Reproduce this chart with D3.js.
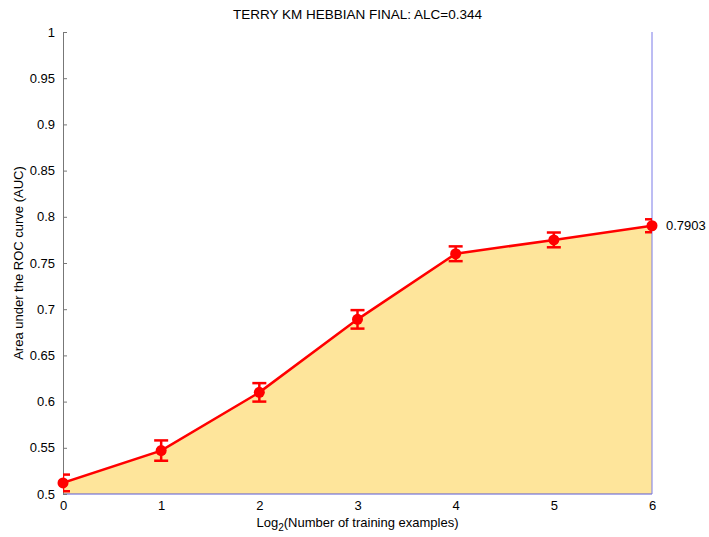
<!DOCTYPE html>
<html>
<head>
<meta charset="utf-8">
<script src="https://cdn.jsdelivr.net/npm/d3@7"></script>
<style>
  html, body { margin: 0; padding: 0; background: #fff; }
  text { font-family: "Liberation Sans", Arial, Helvetica, sans-serif; }
</style>
</head>
<body>
<svg id="chart" width="709" height="537"></svg>
<script>
// Learning curve: AUC against log2 of the number of training examples
const log2Examples = [0, 1, 2, 3, 4, 5, 6];
const aucValues    = [0.512, 0.547, 0.610, 0.689, 0.760, 0.775, 0.7903];
const aucErrors    = [0.009, 0.011, 0.010, 0.010, 0.008, 0.008, 0.007];
const xTicks = [0, 1, 2, 3, 4, 5, 6];
const yTicks = [0.5, 0.55, 0.6, 0.65, 0.7, 0.75, 0.8, 0.85, 0.9, 0.95, 1];
const titleText = "TERRY KM HEBBIAN FINAL: ALC=0.344";
const finalLabel = "0.7903";

const svg = d3.select("#chart");
const plotLeft = 63, plotRight = 652, plotTop = 32, plotBottom = 494;
const fontSize = 13;

const x = d3.scaleLinear().domain([0, 6]).range([plotLeft, plotRight]);
const y = d3.scaleLinear().domain([0.5, 1]).range([plotBottom, plotTop]);

const data = log2Examples.map((v, i) => ({ x: v, y: aucValues[i], e: aucErrors[i] }));

svg.append("defs").append("clipPath").attr("id", "plotClip")
  .append("rect").attr("x", plotLeft).attr("y", plotTop)
  .attr("width", plotRight - plotLeft).attr("height", plotBottom - plotTop);

// Shaded area under the curve
const area = d3.area().x(d => x(d.x)).y0(y(0.5)).y1(d => y(d.y));
svg.append("path").datum(data)
  .attr("d", area)
  .attr("fill", "#fee59b")
  .attr("stroke", "none");

// Blue outline at the bottom and the right end of the area
svg.append("line")
  .attr("x1", x(0)).attr("x2", x(6)).attr("y1", y(0.5)).attr("y2", y(0.5))
  .attr("stroke", "#5b5bd6").attr("stroke-width", 1.2);
svg.append("line")
  .attr("x1", x(6)).attr("x2", x(6)).attr("y1", y(1)).attr("y2", y(0.5))
  .attr("stroke", "#7a7ae8").attr("stroke-width", 1);

// Left axis with inward ticks
const yAxis = d3.axisLeft(y).tickValues(yTicks).tickSizeInner(-4).tickSizeOuter(0)
  .tickPadding(8).tickFormat(d => d === 1 ? "1" : d3.format("")(+d.toFixed(2)));
const gy = svg.append("g").attr("transform", `translate(${plotLeft},0)`).call(yAxis);
gy.select(".domain").attr("stroke", "#777");
gy.selectAll(".tick line").attr("stroke", "#777");
gy.selectAll("text").attr("font-size", fontSize).attr("fill", "#000");

// Bottom tick labels
const xAxis = d3.axisBottom(x).tickValues(xTicks).tickSize(0).tickPadding(7).tickFormat(d3.format("d"));
const gx = svg.append("g").attr("transform", `translate(0,${plotBottom})`).call(xAxis);
gx.select(".domain").remove();
gx.selectAll("text").attr("font-size", fontSize).attr("fill", "#000");

// Curve, error bars and markers
const plot = svg.append("g").attr("clip-path", "url(#plotClip)");
const line = d3.line().x(d => x(d.x)).y(d => y(d.y));
plot.append("path").datum(data)
  .attr("d", line).attr("fill", "none")
  .attr("stroke", "#ff0000").attr("stroke-width", 2.5);

const cap = 7;
const eb = plot.selectAll(".err").data(data).enter().append("g").attr("class", "err")
  .attr("stroke", "#ff0000").attr("stroke-width", 2.5);
eb.append("line")
  .attr("x1", d => x(d.x)).attr("x2", d => x(d.x))
  .attr("y1", d => y(d.y - d.e)).attr("y2", d => y(d.y + d.e));
eb.append("line")
  .attr("x1", d => x(d.x) - cap).attr("x2", d => x(d.x) + cap)
  .attr("y1", d => y(d.y - d.e)).attr("y2", d => y(d.y - d.e));
eb.append("line")
  .attr("x1", d => x(d.x) - cap).attr("x2", d => x(d.x) + cap)
  .attr("y1", d => y(d.y + d.e)).attr("y2", d => y(d.y + d.e));

svg.selectAll(".pt").data(data).enter().append("circle").attr("class", "pt")
  .attr("cx", d => x(d.x)).attr("cy", d => y(d.y)).attr("r", 5.5)
  .attr("fill", "#ff0000");

// Final value label
svg.append("text")
  .attr("x", x(6) + 14).attr("y", y(aucValues[6]) + 4.5)
  .attr("font-size", fontSize).text(finalLabel);

// Title
svg.append("text")
  .attr("x", (plotLeft + plotRight) / 2).attr("y", 19)
  .attr("text-anchor", "middle").attr("font-size", 13.5).text(titleText);

// Axis titles
const xl = svg.append("text")
  .attr("x", (plotLeft + plotRight) / 2).attr("y", 527)
  .attr("text-anchor", "middle").attr("font-size", fontSize);
xl.append("tspan").text("Log");
xl.append("tspan").attr("font-size", 10).attr("dy", 4).text("2");
xl.append("tspan").attr("dy", -4).text("(Number of training examples)");

svg.append("text")
  .attr("transform", `translate(23,${(plotTop + plotBottom) / 2}) rotate(-90)`)
  .attr("text-anchor", "middle").attr("font-size", fontSize)
  .text("Area under the ROC curve (AUC)");
</script>
</body>
</html>
